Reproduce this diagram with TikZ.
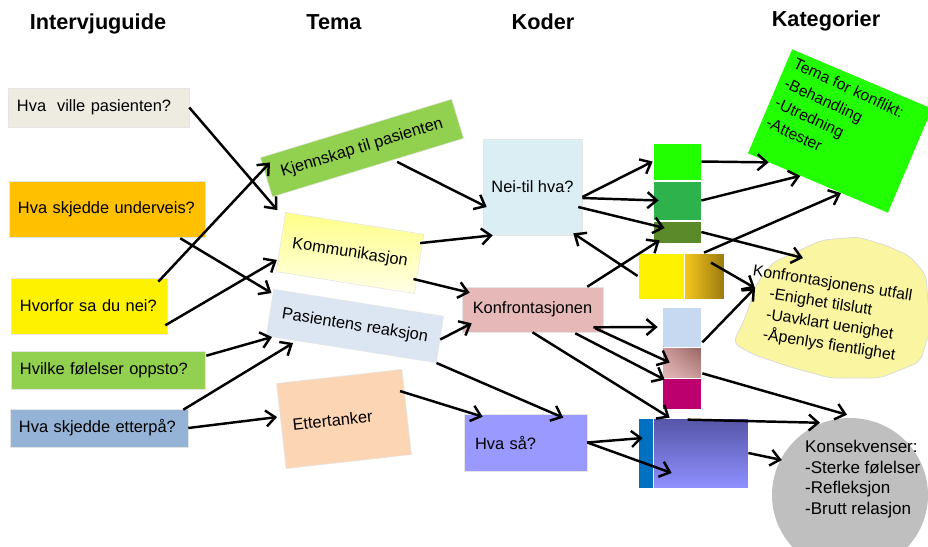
\documentclass[tikz,border=0pt]{standalone}
\usepackage{fontspec}
\setmainfont{Liberation Sans}
\usetikzlibrary{arrows.meta,calc,shapes.geometric,shadings}

\definecolor{guidegray}{HTML}{EEECE1}
\definecolor{guideorange}{HTML}{FFC000}
\definecolor{guidegreen}{HTML}{92D050}
\definecolor{guideblue}{HTML}{95B3D7}
\definecolor{temayellowtop}{HTML}{FFFF88}
\definecolor{temayellowbot}{HTML}{FFFFE6}
\definecolor{temablue}{HTML}{DCE6F2}
\definecolor{temapeach}{HTML}{FCD5B5}
\definecolor{kodeblue}{HTML}{DBEEF4}
\definecolor{kodepink}{HTML}{E6B9B8}
\definecolor{kodepurple}{HTML}{9999FF}
\definecolor{neongreen}{HTML}{22FF00}
\definecolor{midgreen}{HTML}{2EB24C}
\definecolor{olivegreen}{HTML}{5A8A2A}
\definecolor{goldlight}{HTML}{F6C81C}
\definecolor{golddark}{HTML}{9B7A10}
\definecolor{paleblue}{HTML}{C6D9F1}
\definecolor{rosedark}{HTML}{96645F}
\definecolor{rosemid}{HTML}{C99999}
\definecolor{roselight}{HTML}{E6BBBB}
\definecolor{magentared}{HTML}{BC006E}
\definecolor{stripblue}{HTML}{0070C0}
\definecolor{slatetop}{HTML}{5555A8}
\definecolor{slatebottom}{HTML}{9090FF}
\definecolor{blobyellow}{HTML}{FAF5A0}
\definecolor{conseqgray}{HTML}{BFBFBF}

\tikzset{
  head/.style={font=\fontsize{18.5}{21}\selectfont\bfseries, anchor=base},
  qbox/.style={rectangle, draw=black!10, line width=0.5pt, inner xsep=0.27cm, inner ysep=0pt, align=left, font=\fontsize{14}{17}\selectfont},
  tbox/.style={rectangle, draw=black!10, line width=0.5pt, inner sep=0pt, align=center, font=\fontsize{14}{17}\selectfont},
  sqbox/.style={rectangle, draw=white, line width=0.6pt, inner sep=0pt},
  listtext/.style={inner sep=0pt, align=left, anchor=north west, font=\fontsize{13.5}{18.5}\selectfont},
  arr/.style={-{Straight Barb[length=2.8mm,width=4.8mm]}, line width=2.1pt},
}

\begin{document}
\begin{tikzpicture}[x=0.03cm, y=-0.03cm]
\useasboundingbox (0,0) rectangle (928,546);
\clip (0,0) rectangle (928,546);

% headings
\node[head] (h1) at (98,29) {Intervjuguide};
\node[head] (h2) at (334,29) {Tema};
\node[head] (h3) at (543,29) {Koder};
\node[head] (h4) at (826,26) {Kategorier};

% intervjuguide
\node[qbox, fill=guidegray, text width=4.89cm, minimum height=1.17cm] (a1) at (98.5,107.5) {Hva\ \ ville pasienten?};
\node[qbox, fill=guideorange, text width=5.34cm, minimum height=1.68cm] (a2) at (107,209) {Hva skjedde underveis?};
\node[qbox, fill=yellow, text width=4.14cm, minimum height=1.68cm] (a3) at (89,306) {Hvorfor sa du nei?};
\node[qbox, fill=guidegreen, text width=5.28cm, minimum height=1.14cm] (a4) at (108,370) {Hvilke følelser oppsto?};
\node[qbox, fill=guideblue, text width=4.8cm, minimum height=1.14cm] (a5) at (99,428) {Hva skjedde etterpå?};

% tema
\node[tbox, fill=guidegreen, minimum width=6cm, minimum height=1.23cm, rotate=17] (t1) at (362,148) {Kjennskap til pasienten};
\node[tbox, top color=temayellowtop, bottom color=temayellowbot, minimum width=4.2cm, minimum height=1.8cm, rotate=-9] (t2) at (350,253) {Kommunikasjon};
\node[tbox, fill=temablue, minimum width=5.16cm, minimum height=1.41cm, rotate=-9] (t3) at (355,326) {Pasientens reaksjon};
\node[tbox, fill=temapeach, text width=3.1cm, align=left, inner xsep=0.34cm, minimum height=2.57cm, rotate=6.4] (t4) at (344,419) {Ettertanker};

% koder
\node[tbox, fill=kodeblue, minimum width=2.97cm, minimum height=2.88cm] (k1) at (532.5,187) {Nei-til hva?};
\node[tbox, fill=kodepink, minimum width=4.23cm, minimum height=1.35cm] (k2) at (532.5,309.5) {Konfrontasjonen};
\node[tbox, fill=kodepurple, text width=3.03cm, align=left, inner xsep=0.33cm, minimum height=1.71cm] (k3) at (525.5,442.5) {Hva så?};

% colour blocks
\node[sqbox, fill=neongreen, minimum width=1.44cm, minimum height=1.11cm] (s1) at (677,161.5) {};
\node[sqbox, fill=midgreen, minimum width=1.44cm, minimum height=1.17cm] (s2) at (677,200.5) {};
\node[sqbox, fill=olivegreen, minimum width=1.44cm, minimum height=0.66cm] (s3) at (677,232) {};
\node[sqbox, fill=yellow, minimum width=1.38cm, minimum height=1.38cm] (s4) at (661,276) {};
\node[sqbox, left color=goldlight, right color=golddark, minimum width=1.2cm, minimum height=1.38cm] (s5) at (704,276) {};
\node[sqbox, fill=paleblue, minimum width=1.17cm, minimum height=1.2cm] (s6) at (681.5,327) {};
\node[sqbox, upper right=rosedark, upper left=rosemid, lower right=rosemid, lower left=roselight, minimum width=1.17cm, minimum height=0.93cm] (s7) at (681.5,362.5) {};
\node[sqbox, fill=magentared, minimum width=1.17cm, minimum height=0.93cm] (s8) at (681.5,393.5) {};
\node[sqbox, fill=stripblue, minimum width=0.45cm, minimum height=2.1cm] (s9) at (645.5,453) {};
\node[sqbox, top color=slatetop, bottom color=slatebottom, minimum width=2.85cm, minimum height=2.1cm] (s10) at (700.5,453) {};

% kategorier
\node[rectangle, fill=neongreen, minimum width=4.56cm, minimum height=3.39cm, rotate=-23] (c1) at (840,131) {};
\node[listtext, rotate=-25] (c1txt) at ($(c1.north west)+(5,8)$) {Tema for konflikt:\\-Behandling\\-Utredning\\-Attester};

\fill[blobyellow, draw=black!15, line width=0.6pt, rounded corners=6pt] (733,343) -- (745,318) -- (757,283) -- (772,263) -- (800,250) -- (822,240) -- (858,237) -- (885,245) -- (910,256) -- (926,275) -- (930,330) -- (920,362) -- (880,378) -- (830,378) -- (790,367) -- (752,354) -- cycle;
\coordinate (c2) at (830,305);
\node[listtext, rotate=-9, font=\fontsize{13.5}{17.5}\selectfont] (c2txt) at (754,264) {Konfrontasjonens utfall\\\hspace*{17pt}-Enighet tilslutt\\\hspace*{17pt}-Uavklart uenighet\\\hspace*{17pt}-Åpenlys fientlighet};

\node[ellipse, fill=conseqgray, minimum width=4.68cm, minimum height=4.62cm] (c3) at (850,495) {};
\node[listtext, font=\fontsize{14.5}{17.5}\selectfont] (c3txt) at (805,440) {Konsekvenser:\\-Sterke følelser\\-Refleksjon\\-Brutt relasjon};

% intervjuguide -> tema
\draw[arr] (a1.east) -- ($(t2.north west)+(-8,-2)$);
\draw[arr] ($(a3.north east)+(-9,4)$) -- ($(t1.north west)+(10,5)$);
\draw[arr] ($(a2.south east)+(-25,1)$) -- ($(t3.north west)+(-2,4)$);
\draw[arr] ($(a3.south east)+(-2,-9)$) -- ($(t2.south west)+(1,-12)$);
\draw[arr] ($(a4.north east)+(1,5)$) -- ($(t3.south west)+(6,1)$);
\draw[arr] ($(a5.north east)+(-5,1)$) -- ($(t3.south west)+(27,7)$);
\draw[arr] (a5.east) -- ($(t4.west)+(-4,-9)$);

% tema -> koder
\draw[arr] ($(t1.south)+(29,-6)$) -- ($(k1.west)+(4,20)$);
\draw[arr] ($(t2.north east)+(-4,9)$) -- ($(k1.south west)+(10,0)$);
\draw[arr] ($(t2.east)+(-6,15)$) -- ($(k2.north west)+(8,6)$);
\draw[arr] (t3.east) -- ($(k2.south west)+(10,-9)$);
\draw[arr] (t3.south east) -- ($(k3.north east)+(-24,4)$);
\draw[arr] ($(t4.north east)+(-2,22)$) -- ($(k3.north west)+(19,3)$);

% koder -> blocks
\draw[arr] ($(k1.east)+(0,10)$) -- (s1.west);
\draw[arr] ($(k1.east)+(0,11)$) -- ($(s2.west)+(6,0)$);
\draw[arr] ($(k1.east)+(-4,20)$) -- ($(s3.west)+(12,-4)$);
\draw[arr] (s4.west) -- ($(k1.south east)+(-9,-2)$);
\draw[arr] ($(k2.north east)+(-16,0)$) -- ($(s3.south west)+(7,-3)$);
\draw[arr] ($(k2.south east)+(-10,-5)$) -- ($(s6.west)+(-4,0)$);
\draw[arr] ($(k2.south east)+(-8,-4)$) -- ($(s7.west)+(8,0)$);
\draw[arr] ($(k2.south east)+(-28,1)$) -- ($(s8.north west)+(3,2)$);
\draw[arr] (k2.south) -- ($(s10.north west)+(17,0)$);
\draw[arr] (k3.east) -- ($(s9.west)+(5,-15)$);
\draw[arr] (k3.east) -- ($(s10.west)+(19,20)$);

% blocks -> kategorier
\draw[arr] (s1.east) -- ($(c1.south west)!0.3!(c1.south)$);
\draw[arr] (s2.east) -- ($(c1.south west)!0.75!(c1.south)$);
\draw[arr] (s5.north) -- ($(c1.south)!0.33!(c1.south east)$);
\draw[arr] (s3.east) -- ($(c2)+(-27,-47)$);
\draw[arr] ($(s5.north)+(7,10)$) -- ($(c2)+(-75,-17)$);
\draw[arr] ($(s6.south east)+(1,-5)$) -- ($(c2)+(-75,-17)$);
\draw[arr] ($(s7.south east)+(1,-5)$) -- ($(c3.north)+(-3,-3)$);
\draw[arr] ($(s10.north west)+(35,2)$) -- ($(c3.north)+(-30,5)$);
\draw[arr] (s10.east) -- ($(c3.west)+(10,-35)$);
\end{tikzpicture}
\end{document}
